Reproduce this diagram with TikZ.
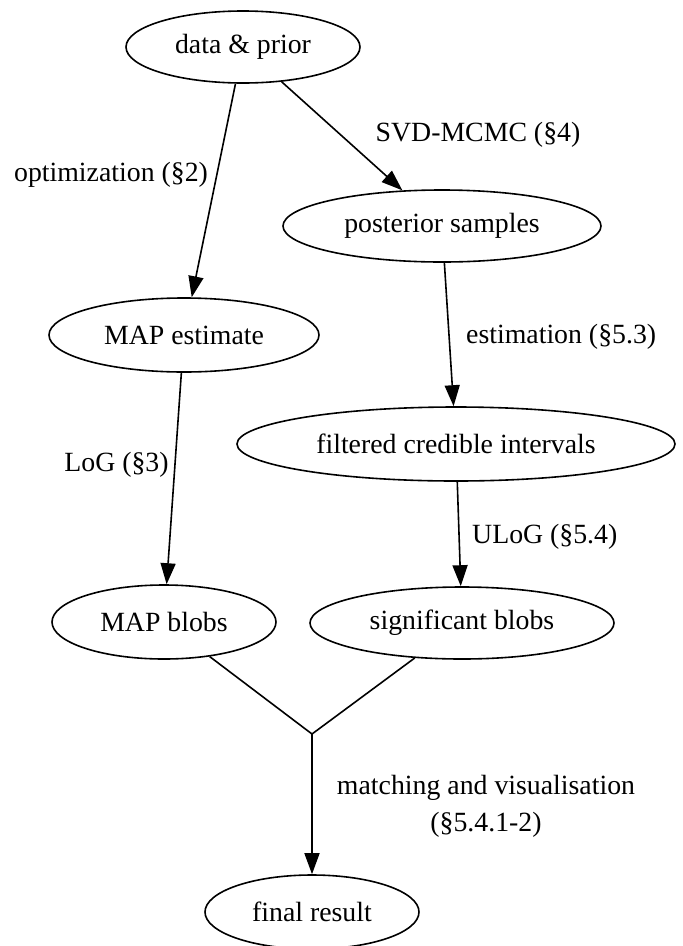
\documentclass[tikz,border=0pt]{standalone}
\usepackage{fontspec}
\setmainfont{Liberation Serif}
\usetikzlibrary{shapes.geometric,arrows.meta}
\begin{document}
\begin{tikzpicture}[x=1pt,y=1pt,
  every node/.style={font=\fontsize{27.8}{37}\selectfont},
  nd/.style={ellipse,draw,line width=1.6pt,inner sep=0pt},
  lbl/.style={inner sep=0pt},
  edge/.style={line width=1.6pt},
  arr/.style={edge,-{Triangle[length=21pt,width=15pt]}}]
\useasboundingbox (0,0) rectangle (683,-946);
\node[nd,minimum width=234pt,minimum height=72pt] (dp) at (243,-47) {data \& prior};
\node[nd,minimum width=318pt,minimum height=72pt] (ps) at (442,-226) {posterior samples};
\node[nd,minimum width=270pt,minimum height=74pt] (me) at (184,-335) {MAP estimate};
\node[nd,minimum width=438pt,minimum height=74pt] (fci) at (456,-444) {filtered credible intervals};
\node[nd,minimum width=224pt,minimum height=74pt] (mb) at (164,-622) {MAP blobs};
\node[nd,minimum width=304pt,minimum height=72pt] (sb) at (462,-623) {significant blobs};
\node[nd,minimum width=214pt,minimum height=74pt] (fr) at (312,-912) {final result};
\coordinate (j) at (312,-734);
\draw[arr] (dp) -- (me);
\draw[arr] (dp) -- (ps);
\draw[arr] (ps) -- (fci);
\draw[arr] (me) -- (mb);
\draw[arr] (fci) -- (sb);
\draw[edge] (mb) -- (j);
\draw[edge] (sb) -- (j);
\draw[arr] (j) -- (fr);
\node[lbl] (l1) at (111,-175) {optimization (§2)};
\node[lbl] (l2) at (478,-135) {SVD-MCMC (§4)};
\node[lbl,anchor=west] (l3) at (466,-337) {estimation (§5.3)};
\node[lbl] (l4) at (116.5,-465) {LoG (§3)};
\node[lbl,anchor=west] (l5) at (472,-537) {ULoG (§5.4)};
\node[lbl,align=center] (l6) at (486,-806) {matching and visualisation\\(§5.4.1-2)};
\end{tikzpicture}
\end{document}
